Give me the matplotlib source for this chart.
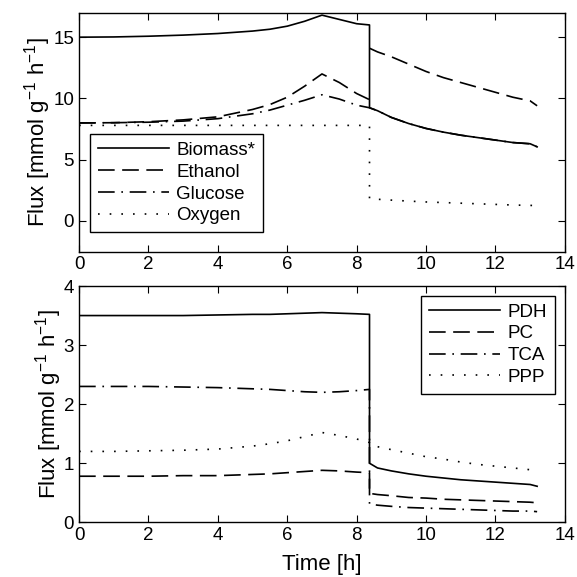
import numpy as np
import matplotlib
matplotlib.use("Agg")
import matplotlib.pyplot as plt

plt.rcParams['font.family'] = ['Liberation Sans', 'DejaVu Sans']
plt.rcParams['mathtext.fontset'] = 'custom'
plt.rcParams['mathtext.rm'] = 'Liberation Sans'
plt.rcParams['mathtext.default'] = 'regular'

# time points before and after the switch (~8.37 h)
t_pre = [0, 1, 2, 3, 4, 5, 5.5, 6, 6.5, 7, 7.5, 8, 8.37]
t_post = [8.37, 8.6, 9, 9.5, 10, 10.5, 11, 11.5, 12, 12.5, 13, 13.2]

# top panel
biomass_pre = [15.0, 15.02, 15.08, 15.17, 15.3, 15.5, 15.65, 15.9, 16.3, 16.8, 16.45, 16.1, 16.0]
biomass_post = [9.24, 9.0, 8.45, 7.95, 7.55, 7.25, 7.0, 6.8, 6.6, 6.4, 6.3, 6.05]
ethanol_pre = [8.0, 8.02, 8.1, 8.25, 8.5, 9.1, 9.5, 10.1, 11.0, 12.0, 11.3, 10.4, 9.9]
ethanol_post = [14.1, 13.8, 13.4, 12.8, 12.2, 11.7, 11.3, 10.9, 10.5, 10.1, 9.8, 9.4]
glucose_pre = [8.0, 8.02, 8.06, 8.15, 8.35, 8.75, 9.05, 9.45, 9.85, 10.3, 9.95, 9.45, 9.24]
glucose_post = [9.24, 9.0, 8.45, 7.95, 7.55, 7.25, 7.0, 6.8, 6.6, 6.4, 6.3, 6.05]
oxygen_pre = [7.8] * 13
oxygen_post = [1.8, 1.77, 1.7, 1.62, 1.55, 1.5, 1.45, 1.4, 1.35, 1.3, 1.27, 1.25]

# bottom panel
pdh_pre = [3.5, 3.5, 3.5, 3.5, 3.51, 3.52, 3.52, 3.53, 3.54, 3.55, 3.54, 3.53, 3.52]
pdh_post = [1.0, 0.92, 0.87, 0.82, 0.78, 0.75, 0.72, 0.70, 0.68, 0.66, 0.64, 0.61]
pc_pre = [0.78, 0.78, 0.78, 0.79, 0.79, 0.81, 0.82, 0.84, 0.86, 0.88, 0.87, 0.85, 0.84]
pc_post = [0.49, 0.47, 0.45, 0.42, 0.41, 0.39, 0.38, 0.37, 0.36, 0.35, 0.34, 0.33]
tca_pre = [2.3, 2.3, 2.3, 2.29, 2.28, 2.26, 2.25, 2.23, 2.21, 2.2, 2.21, 2.23, 2.25]
tca_post = [0.31, 0.29, 0.27, 0.25, 0.24, 0.23, 0.22, 0.21, 0.20, 0.19, 0.19, 0.18]
ppp_pre = [1.2, 1.2, 1.21, 1.22, 1.24, 1.29, 1.33, 1.38, 1.45, 1.52, 1.47, 1.41, 1.35]
ppp_post = [1.32, 1.28, 1.23, 1.17, 1.11, 1.07, 1.02, 0.98, 0.95, 0.92, 0.89, 0.87]

DASH = (0, (10, 4.5))
DASHDOT = (0, (10, 4, 1, 4))
DOT = (0, (1, 6))
LW = 1.2
YLABEL = 'Flux [mmol g$^{-1}$ h$^{-1}$]'


def join(pre, post, gap=False):
    if gap:
        t = np.concatenate([t_pre, [np.nan], t_post])
        y = np.concatenate([pre, [np.nan], post])
    else:
        t = np.concatenate([t_pre, t_post])
        y = np.concatenate([pre, post])
    return t, y


def style_axes(ax):
    ax.set_xlim(0, 14)
    ax.set_xticks(range(0, 15, 2))
    ax.tick_params(direction='in', top=True, right=True, labelsize=13.5, length=5, width=0.8)
    for s in ax.spines.values():
        s.set_linewidth(1.0)


def add_legend(ax, loc, anchor):
    leg = ax.legend(loc=loc, bbox_to_anchor=anchor, borderaxespad=0,
                    fontsize=13.5, fancybox=False, framealpha=1, edgecolor='k',
                    handlelength=3.8, handletextpad=0.4, labelspacing=0.25, borderpad=0.4)
    leg.get_frame().set_linewidth(1.0)


fig = plt.figure(figsize=(5.77, 5.77), dpi=100)
ax1 = fig.add_axes([0.137, 0.564, 0.842, 0.414])
ax2 = fig.add_axes([0.137, 0.0948, 0.842, 0.4095])

ax1.plot(*join(biomass_pre, biomass_post), 'k', lw=LW, label='Biomass*')
ax1.plot(*join(ethanol_pre, ethanol_post, gap=True), 'k', ls=DASH, lw=LW, label='Ethanol')
ax1.plot(*join(glucose_pre, glucose_post), 'k', ls=DASHDOT, lw=LW, label='Glucose')
ax1.plot(*join(oxygen_pre, oxygen_post), 'k', ls=DOT, lw=LW, label='Oxygen')
ax1.set_ylim(-2.5, 17)
ax1.set_yticks([0, 5, 10, 15])
style_axes(ax1)
ax1.set_ylabel(YLABEL, fontsize=16, labelpad=0)
add_legend(ax1, 'lower left', (0.0226, 0.082))

ax2.plot(*join(pdh_pre, pdh_post), 'k', lw=LW, label='PDH')
ax2.plot(*join(pc_pre, pc_post), 'k', ls=DASH, lw=LW, label='PC')
ax2.plot(*join(tca_pre, tca_post), 'k', ls=DASHDOT, lw=LW, label='TCA')
ax2.plot(*join(ppp_pre, ppp_post), 'k', ls=DOT, lw=LW, label='PPP')
ax2.set_ylim(0, 4)
ax2.set_yticks([0, 1, 2, 3, 4])
style_axes(ax2)
ax2.set_ylabel(YLABEL, fontsize=16, labelpad=0)
ax2.set_xlabel('Time [h]', fontsize=16, labelpad=7)
add_legend(ax2, 'upper right', (0.979, 0.958))

fig.savefig('out.png', dpi=100)
